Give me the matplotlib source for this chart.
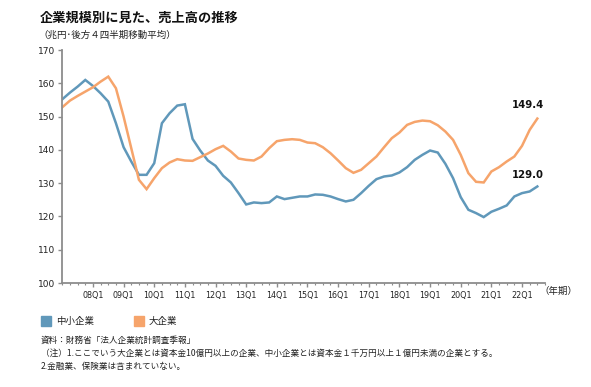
import numpy as np
import matplotlib
matplotlib.use("Agg")
import matplotlib.pyplot as plt
from matplotlib.patches import Rectangle

plt.rcParams['font.family'] = ['DejaVu Sans', 'Noto Sans CJK JP']

# quarterly, 07Q1 .. 22Q3 (trailing 4-quarter average, trillion yen)
small = [155.2, 157.2, 159.0, 161.0, 159.2, 157.0, 154.5, 148.0, 140.8, 136.5,
         132.5, 132.5, 136.0, 148.0, 151.0, 153.3, 153.7, 143.3, 139.8, 136.8,
         135.2, 132.2, 130.2, 127.0, 123.6, 124.2, 124.0, 124.2, 126.0, 125.2,
         125.6, 126.0, 126.0, 126.6, 126.5, 126.0, 125.2, 124.5, 125.0, 127.0,
         129.2, 131.2, 132.0, 132.3, 133.2, 134.8, 137.0, 138.5, 139.8, 139.2,
         135.8, 131.5, 125.8, 122.0, 121.0, 119.8, 121.4, 122.3, 123.3, 126.0,
         127.0, 127.5, 129.0]
large = [152.8, 154.8, 156.2, 157.5, 158.8, 160.5, 162.0, 158.5, 150.0, 140.5,
         131.0, 128.2, 131.5, 134.5, 136.2, 137.2, 136.8, 136.7, 137.8, 138.9,
         140.2, 141.2, 139.5, 137.4, 137.0, 136.8, 138.0, 140.5, 142.6, 143.0,
         143.2, 143.0, 142.2, 142.0, 140.8, 139.0, 136.8, 134.5, 133.1, 134.0,
         136.0, 138.0, 140.8, 143.5, 145.2, 147.5, 148.4, 148.8, 148.6, 147.4,
         145.5, 143.0, 138.5, 133.0, 130.4, 130.2, 133.5, 134.8, 136.5, 138.0,
         141.2, 146.0, 149.4]
year_labels = ['08Q1', '09Q1', '10Q1', '11Q1', '12Q1', '13Q1', '14Q1', '15Q1',
               '16Q1', '17Q1', '18Q1', '19Q1', '20Q1', '21Q1', '22Q1']
series_names = ['中小企業', '大企業']
colors = ['#6098ba', '#f6a46b']

W, H = 591, 387
fig = plt.figure(figsize=(W / 100, H / 100), dpi=100)


def fx(px):
    return px / W


def fy(py):
    return 1 - py / H


ax = fig.add_axes([fx(62.3), fy(283), fx(545) - fx(62.3), fy(50) - fy(283)])
x = np.arange(len(small))
ax.plot(x, small, color=colors[0], lw=1.8, solid_joinstyle='miter')
ax.plot(x, large, color=colors[1], lw=1.8, solid_joinstyle='miter')

ax.set_xlim(0, 63)
ax.set_ylim(100, 170)
ax.set_yticks(np.arange(100, 171, 10))
ax.set_xticks(np.arange(4, 63, 4))
ax.set_xticklabels(year_labels)
ax.set_xticks(np.arange(0, 64, 1), minor=True)

for s in ['top', 'right']:
    ax.spines[s].set_visible(False)
for s in ['left', 'bottom']:
    ax.spines[s].set_color('#8c8c8c')
    ax.spines[s].set_linewidth(1.3)
ax.tick_params(axis='y', length=3, width=1, color='#8c8c8c', labelsize=6.5,
               pad=2, labelcolor='#222222')
ax.tick_params(axis='x', which='major', length=3, width=1, color='#8c8c8c',
               labelsize=5.8, pad=3, labelcolor='#222222')
ax.tick_params(axis='x', which='minor', length=1.5, width=0.8, color='#8c8c8c')

ax.annotate(f'{large[-1]:.1f}', (x[-1], large[-1]), xytext=(-6.5, 10),
            textcoords='offset points', ha='center', va='center',
            fontsize=7.3, fontweight='bold', color='#111111')
ax.annotate(f'{small[-1]:.1f}', (x[-1], small[-1]), xytext=(-6.5, 8.5),
            textcoords='offset points', ha='center', va='center',
            fontsize=7.3, fontweight='bold', color='#111111')

fig.text(fx(558), fy(291), '（年期）', fontsize=6.8, ha='center', va='center',
         family=['Noto Sans CJK JP'], color='#222222')

fig.text(fx(40), fy(17.5), '企業規模別に見た、売上高の推移', fontsize=9.5,
         fontweight='bold', ha='left', va='center', family=['Noto Sans CJK JP'],
         color='#111111')
fig.text(fx(38), fy(35), '（兆円･後方４四半期移動平均）', fontsize=6.8,
         ha='left', va='center', family=['Noto Sans CJK JP', 'DejaVu Sans'],
         color='#222222')

# legend
leg_x = [41, 134]
for lx, name, c in zip(leg_x, series_names, colors):
    fig.add_artist(Rectangle((fx(lx), fy(326)), fx(10), 10 / H, color=c,
                             transform=fig.transFigure))
    fig.text(fx(lx + 15), fy(321), name, fontsize=6.8, ha='left', va='center',
             family=['Noto Sans CJK JP'], color='#222222')

notes = ['資料：財務省「法人企業統計調査季報」',
         '（注）1.ここでいう大企業とは資本金10億円以上の企業、中小企業とは資本金１千万円以上１億円未満の企業とする。',
         '2.金融業、保険業は含まれていない。']
for i, t in enumerate(notes):
    fig.text(fx(41), fy(340 + i * 13), t, fontsize=6.2, ha='left', va='center',
             family=['Noto Sans CJK JP', 'DejaVu Sans'], color='#222222')

fig.savefig('out.png', dpi=100)
